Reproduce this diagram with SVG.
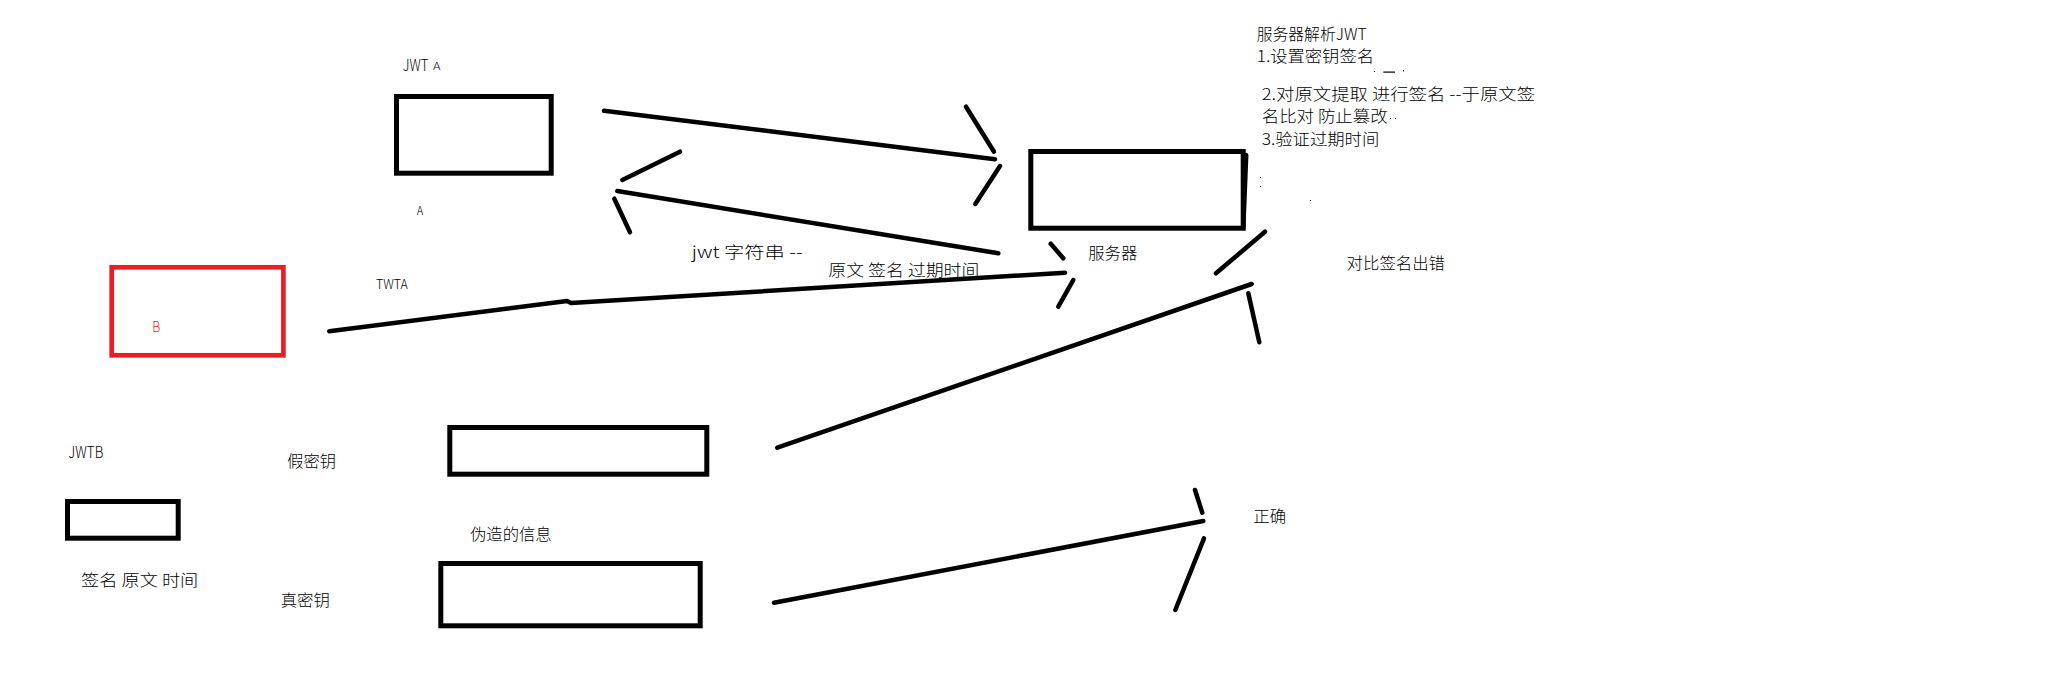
<svg xmlns="http://www.w3.org/2000/svg" width="2058" height="677" viewBox="0 0 2058 677">
<style>
.box{fill:none;stroke:#000;stroke-width:5}
.red{fill:none;stroke:#ED1C24;stroke-width:4.7}
.ln{fill:none;stroke:#000;stroke-width:4.5;stroke-linecap:round;stroke-linejoin:round}
.t{font-family:"Noto Sans CJK SC","Liberation Sans",sans-serif;font-size:16px;font-weight:300;fill:#000}
.s{font-family:"Noto Sans CJK SC","Liberation Sans",sans-serif;font-weight:300;fill:#000}
.dot{fill:#000}
</style>
<rect width="2058" height="677" fill="#fff"/>

<g id="jwtA">
  <rect class="box" x="396.5" y="96.5" width="154.7" height="76.7"/>
  <text class="s" x="402.7" y="70.7" font-size="16" textLength="25.6" lengthAdjust="spacingAndGlyphs">JWT</text>
  <text class="s" x="433" y="70" font-size="10" textLength="7.5" lengthAdjust="spacingAndGlyphs">A</text>
  <text class="s" x="416.7" y="215" font-size="11.5" textLength="6.5" lengthAdjust="spacingAndGlyphs">A</text>
</g>

<g id="server">
  <rect class="box" x="1030.8" y="151.5" width="212.4" height="76.7"/>
  <line class="ln" x1="1246.2" y1="155" x2="1243.3" y2="228" stroke-linecap="butt" stroke-width="5.5"/>
  <text class="t" x="1088.3" y="258.5" textLength="49" lengthAdjust="spacingAndGlyphs">服务器</text>
</g>

<g id="jwtB-red">
  <rect class="red" x="111.7" y="267.3" width="171.7" height="88"/>
  <text class="s" x="152.3" y="332" font-size="15" style="fill:#ED1C24" textLength="8" lengthAdjust="spacingAndGlyphs">B</text>
</g>

<g id="jwtB">
  <rect class="box" x="67.5" y="501.5" width="110.7" height="36.7"/>
  <text class="s" x="68.3" y="458.3" font-size="16" textLength="35" lengthAdjust="spacingAndGlyphs">JWTB</text>
  <text class="t" x="81" y="585.5" textLength="117.3" lengthAdjust="spacingAndGlyphs">签名  原文  时间</text>
</g>

<g id="fakeKey">
  <rect class="box" x="449.8" y="427.5" width="257" height="46.7"/>
  <text class="t" x="287.3" y="467" textLength="48.7" lengthAdjust="spacingAndGlyphs">假密钥</text>
</g>

<g id="trueKey">
  <rect class="box" x="440.8" y="563.5" width="259.4" height="62.3"/>
  <text class="t" x="280.7" y="605.5" textLength="49.3" lengthAdjust="spacingAndGlyphs">真密钥</text>
  <text class="t" x="470" y="539.5" textLength="81.7" lengthAdjust="spacingAndGlyphs">伪造的信息</text>
</g>

<g id="notes">
  <text class="t" x="1256.7" y="40" textLength="110" lengthAdjust="spacingAndGlyphs">服务器解析JWT</text>
  <text class="t" x="1256.7" y="62" textLength="117.3" lengthAdjust="spacingAndGlyphs">1.设置密钥签名</text>
  <rect class="dot" x="1374" y="71" width="1" height="1"/>
  <rect class="dot" x="1383.3" y="71.5" width="11.7" height="1.2"/>
  <rect class="dot" x="1403" y="70" width="1" height="1.5"/>
  <text class="t" x="1261.7" y="99.5" textLength="273.3" lengthAdjust="spacingAndGlyphs">2.对原文提取  进行签名  --于原文签</text>
  <text class="t" x="1261.7" y="122" textLength="126" lengthAdjust="spacingAndGlyphs">名比对  防止篡改</text>
  <rect class="dot" x="1390" y="118" width="1" height="1"/>
  <rect class="dot" x="1395" y="118" width="1" height="1"/>
  <text class="t" x="1261.7" y="145" textLength="117.6" lengthAdjust="spacingAndGlyphs">3.验证过期时间</text>
  <rect class="dot" x="1260" y="177" width="1" height="1"/>
  <rect class="dot" x="1260" y="186" width="1" height="1"/>
  <rect class="dot" x="1310" y="200" width="1" height="1"/>
  <text class="t" x="1346.6" y="269" textLength="98.4" lengthAdjust="spacingAndGlyphs">对比签名出错</text>
  <text class="t" x="1253.3" y="521.5" textLength="32.7" lengthAdjust="spacingAndGlyphs">正确</text>
</g>

<g id="connectors">
  <!-- JWT A -> server -->
  <line class="ln" x1="604" y1="110.7" x2="995" y2="159.3"/>
  <line class="ln" x1="966" y1="106.7" x2="994" y2="151.7"/>
  <line class="ln" x1="1000" y1="166" x2="975.3" y2="204"/>
  <!-- server -> JWT A -->
  <line class="ln" x1="998.3" y1="253.3" x2="617.3" y2="191"/>
  <line class="ln" x1="680" y1="151.7" x2="622.3" y2="180"/>
  <line class="ln" x1="614.3" y1="198.7" x2="630" y2="232.3"/>
  <text class="t" x="691.7" y="257.5" textLength="111" lengthAdjust="spacingAndGlyphs">jwt  字符串  --</text>
  <text class="t" x="828.3" y="276" textLength="151" lengthAdjust="spacingAndGlyphs">原文  签名  过期时间</text>
  <!-- B -> server -->
  <polyline class="ln" points="329.3,331.3 567,301 571,303 1065,272.7"/>
  <line class="ln" x1="1050.7" y1="243.7" x2="1063.3" y2="258.3"/>
  <line class="ln" x1="1073.3" y1="280" x2="1058.3" y2="306.7"/>
  <text class="s" x="376" y="289" font-size="12.5" textLength="31.7" lengthAdjust="spacingAndGlyphs">TWTA</text>
  <!-- fake key -> server -->
  <line class="ln" x1="777.3" y1="447.7" x2="1251.7" y2="284"/>
  <line class="ln" x1="1265" y1="231.7" x2="1216" y2="273.3"/>
  <line class="ln" x1="1248.3" y1="293.3" x2="1259.3" y2="342.3"/>
  <!-- true key -> correct -->
  <line class="ln" x1="774" y1="602.7" x2="1203.3" y2="521"/>
  <line class="ln" x1="1195" y1="490" x2="1202.3" y2="512.7"/>
  <line class="ln" x1="1204" y1="538.3" x2="1175.3" y2="610"/>
</g>
</svg>
